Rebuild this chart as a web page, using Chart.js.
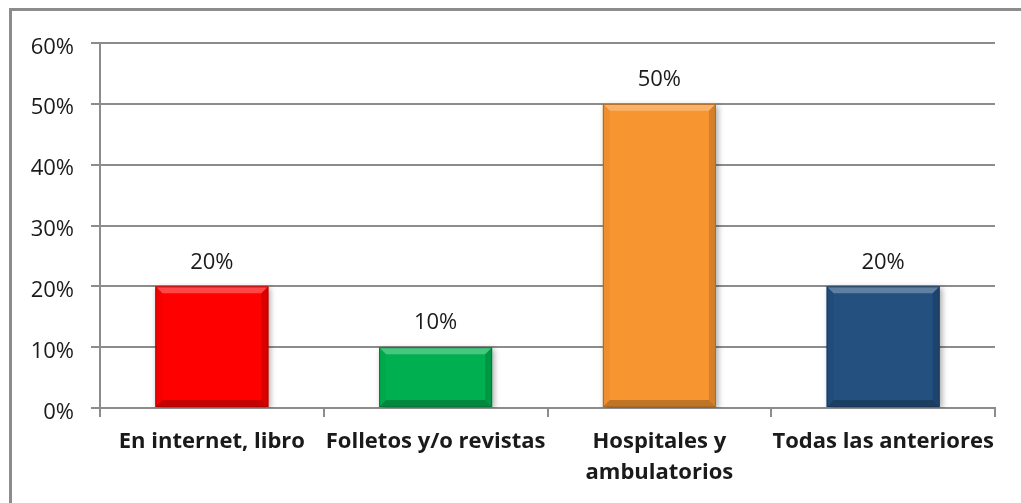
<!DOCTYPE html>
<html>
<head>
<meta charset="utf-8">
<script src="https://cdn.jsdelivr.net/npm/chart.js@4/dist/chart.umd.min.js"></script>
<style>
  html, body { margin: 0; padding: 0; background: #fff; overflow: hidden; }
  #wrap { position: relative; width: 1021px; height: 503px; }
  #frame { position: absolute; left: 9px; top: 8px; width: 1040px; height: 540px; border: 3px solid #8c8c8c; box-sizing: border-box; }
  canvas { position: absolute; left: 0; top: 0; }
</style>
</head>
<body>
<div id="wrap">
  <div id="frame"></div>
  <canvas id="c" width="1021" height="503"></canvas>
</div>
<script>
const categories = ["En internet, libro", "Folletos y/o revistas", ["Hospitales y", "ambulatorios"], "Todas las anteriores"];
const values = [20, 10, 50, 20];
const valueLabels = ["20%", "10%", "50%", "20%"];
const barColors = ["#FF0000", "#00B050", "#F79530", "#23507F"];
const yTicks = [0, 10, 20, 30, 40, 50, 60];

const GRID = "#8c8c8c";
const FONT = "'Open Sans', sans-serif";

function shade(hex, amt) {
  const n = parseInt(hex.slice(1), 16);
  let r = (n >> 16) & 255, g = (n >> 8) & 255, b = n & 255;
  const f = v => Math.max(0, Math.min(255, Math.round(amt >= 0 ? v + (255 - v) * amt : v * (1 + amt))));
  return `rgb(${f(r)},${f(g)},${f(b)})`;
}

const shadowPlugin = {
  id: 'barShadow',
  beforeDatasetsDraw(chart) {
    const ctx = chart.ctx;
    ctx.save();
    ctx.shadowColor = 'rgba(0,0,0,0.35)';
    ctx.shadowBlur = 6;
    ctx.shadowOffsetX = 2;
    ctx.shadowOffsetY = 2;
  },
  afterDatasetsDraw(chart) {
    const ctx = chart.ctx;
    ctx.restore();
    const meta = chart.getDatasetMeta(0);
    meta.data.forEach((bar, i) => {
      const w = bar.width;
      const l = bar.x - w / 2, r = bar.x + w / 2, t = bar.y, btm = bar.base;
      const b = 7;
      const poly = (pts, fill) => {
        ctx.beginPath();
        ctx.moveTo(pts[0][0], pts[0][1]);
        for (let k = 1; k < pts.length; k++) ctx.lineTo(pts[k][0], pts[k][1]);
        ctx.closePath();
        ctx.fillStyle = fill;
        ctx.fill();
      };
      ctx.save();
      poly([[l, t], [r, t], [r - b, t + b], [l + b, t + b]], 'rgba(255,255,255,0.28)');
      poly([[l, t], [l + b, t + b], [l + b, btm - b], [l, btm]], 'rgba(0,0,0,0.04)');
      poly([[r, t], [r - b, t + b], [r - b, btm - b], [r, btm]], 'rgba(0,0,0,0.14)');
      poly([[l, btm], [l + b, btm - b], [r - b, btm - b], [r, btm]], 'rgba(0,0,0,0.22)');
      ctx.strokeStyle = shade(barColors[i], -0.3);
      ctx.lineWidth = 1;
      ctx.strokeRect(l + 0.5, t + 0.5, w - 1, btm - t - 1);
      ctx.restore();

      // value label
      ctx.save();
      ctx.font = `22px ${FONT}`;
      ctx.fillStyle = '#1a1a1a';
      ctx.textAlign = 'center';
      ctx.textBaseline = 'middle';
      ctx.fillText(valueLabels[i], bar.x, bar.y - 24);
      ctx.restore();
    });
  }
};

new Chart(document.getElementById('c'), {
  type: 'bar',
  data: {
    labels: categories,
    datasets: [{
      data: values,
      backgroundColor: (c) => {
        const chart = c.chart;
        const area = chart.chartArea;
        const col = barColors[c.dataIndex];
        if (!area) return col;
        const el = c.element;
        if (!el || el.y === undefined) return col;
        const g = chart.ctx.createLinearGradient(0, el.y, 0, el.base);
        g.addColorStop(0, shade(col, 0.08));
        g.addColorStop(1, shade(col, -0.05));
        return g;
      },
      borderWidth: 0,
      barPercentage: 0.505,
      categoryPercentage: 1.0
    }]
  },
  options: {
    responsive: false,
    animation: false,
    devicePixelRatio: 1,
    layout: { padding: { left: 0, right: 26, top: 43, bottom: 0 } },
    plugins: { legend: { display: false }, tooltip: { enabled: false } },
    scales: {
      x: {
        grid: { drawOnChartArea: false, drawTicks: true, tickLength: 9, color: GRID, lineWidth: 2 },
        border: { display: true, color: GRID, width: 2 },
        ticks: {
          color: '#1a1a1a',
          font: { family: FONT, size: 22, weight: 'bold', lineHeight: 1.42 },
          padding: 9,
          maxRotation: 0,
          autoSkip: false
        },
        afterFit: (s) => { s.height = 95; }
      },
      y: {
        min: 0, max: 60,
        grid: { color: GRID, lineWidth: 2, tickLength: 9 },
        border: { display: true, color: GRID, width: 2 },
        ticks: {
          stepSize: 10,
          color: '#1a1a1a',
          font: { family: FONT, size: 22, lineHeight: 0.4 },
          padding: 17,
          callback: (v) => yTicks.includes(v) ? ['', v + '%'] : ''
        },
        afterFit: (s) => { s.width = 100; }
      }
    }
  },
  plugins: [shadowPlugin]
});
</script>
</body>
</html>
